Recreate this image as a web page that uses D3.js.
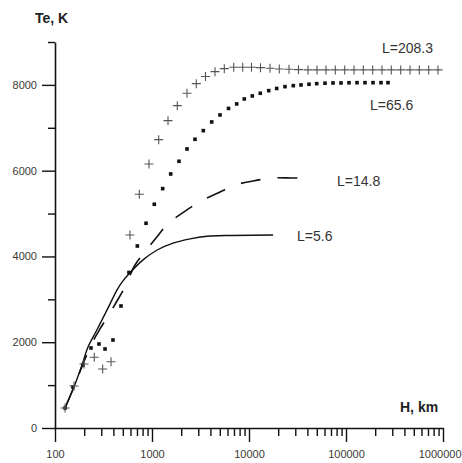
<!DOCTYPE html>
<html>
<head>
<meta charset="utf-8">
<script src="https://cdn.jsdelivr.net/npm/d3@7"></script>
<style>
  body { margin: 0; background: #fff; }
  text { font-family: Arial, "Liberation Sans", sans-serif; }
</style>
</head>
<body>
<svg id="chart" width="462" height="463"></svg>
<script>
// H, km values and Te, K values
const hSolid = [127, 157, 190, 219, 271, 328, 378, 436, 502, 593, 808, 1130, 1650, 2470, 3690, 6370, 17700];
const teSolid = [470, 960, 1470, 1890, 2290, 2660, 2940, 3220, 3430, 3620, 3920, 4150, 4310, 4410, 4470, 4490, 4500];

const hDash = [127, 157, 194, 241, 291, 352, 425, 527, 668, 827, 1100, 1460, 2140, 3200, 4790, 7350, 11000, 17700, 27700, 44600];
const teDash = [470, 960, 1490, 1980, 2310, 2610, 2920, 3290, 3800, 4080, 4430, 4760, 5040, 5290, 5480, 5670, 5760, 5830, 5830, 5830];

const hDots = [127, 153, 194, 235, 284, 328, 396, 479, 579, 706, 868, 1056, 1289, 1559, 1898, 2295, 2775, 3380, 4126, 5024,
  6147, 7468, 8942, 10810, 13080, 15970, 19300, 23500, 28620, 34370, 41550, 49880, 60750, 73470, 88830, 107400,
  129900, 157000, 189900, 229500, 271000];
const teDots = [466, 956, 1469, 1866, 1959, 1842, 2052, 2845, 3626, 4244, 4774, 5217, 5581, 5923, 6219, 6506, 6732, 6933, 7136, 7299,
  7451, 7556, 7672, 7742, 7805, 7866, 7917, 7959, 7982, 7999, 8015, 8029, 8039, 8045, 8045, 8050,
  8052, 8052, 8052, 8052, 8052];

const hPlus = [127, 157, 199, 254, 310, 378, 593, 740, 931, 1172, 1462, 1823, 2295, 2862, 3561, 4462, 5564, 6956, 8612,
  10610, 13140, 16470, 20530, 25850, 32380, 40580, 50240, 62200, 77580, 96960, 120900, 150800, 188500, 235000,
  293100, 366400, 456800, 569800, 712200, 888200];
const tePlus = [466, 979, 1492, 1649, 1376, 1546, 4501, 5450, 6156, 6723, 7166, 7516, 7805, 8029, 8197, 8309, 8379, 8411, 8411,
  8411, 8402, 8388, 8372, 8365, 8355, 8349, 8349, 8349, 8349, 8349, 8349, 8349, 8349, 8349,
  8349, 8349, 8349, 8349, 8349, 8349];

const seriesNames = ["L=5.6", "L=14.8", "L=65.6", "L=208.3"];

const xMajor = [100, 1000, 10000, 100000, 1000000];
const yMajor = [0, 2000, 4000, 6000, 8000];
const yMinor = [1000, 3000, 5000, 7000, 9000];

const svg = d3.select("#chart");

const x = d3.scaleLog().domain([100, 1000000]).range([55, 443]);
const y = d3.scaleLinear().domain([0, 9000]).range([428, 42]);

const zip = (a, b) => a.map((v, i) => [v, b[i]]);

// all 1..9 x decade ticks on the log axis
let xTicks = [];
xMajor.forEach((m, i) => {
  if (i < xMajor.length - 1) for (let k = 1; k < 10; k++) xTicks.push(m * k);
  else xTicks.push(m);
});

// y axis
const yAxis = svg.append("g")
  .attr("transform", "translate(55,0)")
  .call(d3.axisLeft(y)
    .tickValues(yMajor.concat(yMinor))
    .tickSize(13)
    .tickSizeOuter(0)
    .tickPadding(5)
    .tickFormat(d => yMajor.includes(d) ? d : ""));
yAxis.selectAll(".tick line")
  .attr("x2", d => yMajor.includes(d) ? -13 : -7);

// x axis
const xAxis = svg.append("g")
  .attr("transform", "translate(0,428)")
  .call(d3.axisBottom(x)
    .tickValues(xTicks)
    .tickSize(14)
    .tickSizeOuter(0)
    .tickPadding(8)
    .tickFormat(d => xMajor.includes(d) ? d : ""));
xAxis.selectAll(".tick line")
  .attr("y2", d => xMajor.includes(d) ? 14 : 8);
// last label would run off the right edge: pin its end inside the page
xAxis.selectAll(".tick text")
  .filter(d => d === 1000000)
  .attr("text-anchor", "end")
  .attr("x", 18);

svg.selectAll(".domain").attr("stroke", "#111").attr("stroke-width", 1.6);
svg.selectAll(".tick line").attr("stroke", "#111").attr("stroke-width", 1.4);
svg.selectAll(".tick text")
  .attr("fill", "#3a3a33")
  .attr("font-size", 11)
  .attr("font-family", "Arial, 'Liberation Sans', sans-serif");

// axis titles
svg.append("text")
  .attr("x", 35).attr("y", 23)
  .attr("font-size", 14).attr("font-weight", "bold").attr("fill", "#222")
  .text("Te, K");
svg.append("text")
  .attr("x", 400).attr("y", 412)
  .attr("font-size", 14).attr("font-weight", "bold").attr("fill", "#222")
  .text("H, km");

const line = d3.line()
  .x(d => x(d[0]))
  .y(d => y(d[1]))
  .curve(d3.curveCatmullRom.alpha(0.5));

// L=5.6 solid
svg.append("path")
  .datum(zip(hSolid, teSolid))
  .attr("d", line)
  .attr("fill", "none")
  .attr("stroke", "#111")
  .attr("stroke-width", 1.4);

// L=14.8 dashed
svg.append("path")
  .datum(zip(hDash, teDash))
  .attr("d", line)
  .attr("fill", "none")
  .attr("stroke", "#111")
  .attr("stroke-width", 1.6)
  .attr("stroke-dasharray", "20,17");

// L=65.6 dots
svg.append("g")
  .selectAll("rect")
  .data(zip(hDots, teDots))
  .enter()
  .append("rect")
  .attr("x", d => x(d[0]) - 1.8)
  .attr("y", d => y(d[1]) - 1.8)
  .attr("width", 3.6)
  .attr("height", 3.6)
  .attr("fill", "#111");

// L=208.3 crosses
svg.append("g")
  .selectAll("path")
  .data(zip(hPlus, tePlus))
  .enter()
  .append("path")
  .attr("d", d => {
    const cx = x(d[0]), cy = y(d[1]);
    return `M${cx - 4.5},${cy}H${cx + 4.5}M${cx},${cy - 4.5}V${cy + 4.5}`;
  })
  .attr("stroke", "#555")
  .attr("stroke-width", 1.1)
  .attr("fill", "none");

// curve labels, placed in data space
const labelH = [31260, 80750, 176800, 235000];
const labelTe = [4477, 5760, 7532, 8862];
svg.append("g")
  .selectAll("text")
  .data(seriesNames)
  .enter()
  .append("text")
  .attr("x", (d, i) => x(labelH[i]))
  .attr("y", (d, i) => y(labelTe[i]))
  .attr("dy", "0.35em")
  .attr("font-size", 14)
  .attr("fill", "#333")
  .text(d => d);
</script>
</body>
</html>
